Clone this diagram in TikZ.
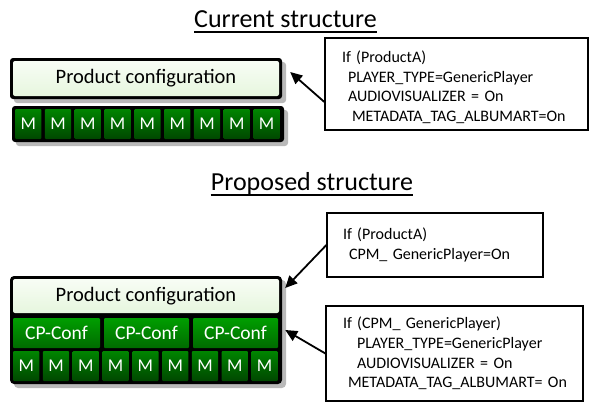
\documentclass[tikz,border=0pt]{standalone}
\usepackage{fontspec}
\setmainfont{Carlito}
\usepackage{xcolor}
\usetikzlibrary{arrows.meta,positioning,shadows}

\definecolor{conftop}{HTML}{F8FDF5}
\definecolor{confbot}{HTML}{E6F6DE}

\begin{document}
\begin{tikzpicture}[x=1pt, y=-1pt,
  title/.style={inner sep=0pt, font=\fontsize{26}{30}\selectfont},
  conf/.style={rectangle, rounded corners=2pt, top color=conftop, bottom color=confbot, minimum width=266pt, minimum height=34pt, font=\fontsize{20.5}{24}\selectfont},
  tray/.style={rectangle, rounded corners=3pt, fill=black, drop shadow={shadow xshift=4pt, shadow yshift=-4pt, fill=gray!55, opacity=1}},
  module/.style={rectangle, rounded corners=1pt, top color=green!52!black, bottom color=green!28!black, minimum width=26.3pt, minimum height=30pt, inner sep=0pt, text=white, font=\fontsize{18}{20}\selectfont},
  cpconf/.style={rectangle, rounded corners=1pt, top color=green!62!black, bottom color=green!42!black, minimum width=85pt, minimum height=30pt, inner sep=0pt, text=white, font=\fontsize{19.5}{22}\selectfont},
  note/.style={rectangle, draw, line width=1.2pt, inner xsep=0pt, inner ysep=0pt, align=left, font=\fontsize{16}{19.6}\selectfont},
  pointer/.style={-{Triangle[length=12pt,width=11pt]}, line width=1.8pt}
]
  \useasboundingbox (0,0) rectangle (590,402);

  % Titles
  \node[title, anchor=base] (cur-title) at (285.5,27) {Current structure};
  \node[title, anchor=base] (new-title) at (312,190) {Proposed structure};
  \draw[line width=1.5pt] ([yshift=-5pt]cur-title.base west) -- ([yshift=-5pt]cur-title.base east);
  \draw[line width=1.5pt] ([yshift=-5pt]new-title.base west) -- ([yshift=-5pt]new-title.base east);

  % Current structure
  \node[tray, minimum width=272pt, minimum height=41pt] (cur-frame) at (146,78.5) {};
  \node[conf, minimum height=35pt] (cur-conf) at (146,78.5) {Product configuration};
  \node[tray, minimum width=272pt, minimum height=36pt] (cur-mods) at (148,124) {};
  \foreach \i in {0,...,8}
    \node[module] (cur-m\i) at ({28.2+29.8*\i},124) {M};

  \node[note, text width=263pt, minimum height=92pt] (cur-note) at (456.5,84)
    {\rule{0pt}{18pt}\hspace*{17pt}If (ProductA)\\
     \hspace*{23pt}PLAYER\_TYPE=GenericPlayer\\
     \hspace*{23pt}AUDIOVISUALIZER = On\\
     \hspace*{27pt}METADATA\_TAG\_ALBUMART=On};

  % Proposed structure
  \node[tray, rounded corners=4pt, minimum width=272pt, minimum height=108pt] (new-frame) at (146,330) {};
  \node[conf] (new-conf) at (146,296) {Product configuration};
  \node[cpconf, minimum width=87pt] (cp1) at (56.5,333) {CP-Conf};
  \node[cpconf] (cp2) at (146.5,333) {CP-Conf};
  \node[cpconf] (cp3) at (235.5,333) {CP-Conf};
  \foreach \i in {0,...,8}
    \node[module] (new-m\i) at ({26.2+29.8*\i},366) {M};

  \node[note, text width=216pt, minimum height=64pt] (new-note) at (435,245)
    {\hspace*{16pt}If (ProductA)\\
     \hspace*{22pt}CPM\_ GenericPlayer=On};
  \node[note, text width=257pt, minimum height=95pt] (cp-note) at (454.5,353.5)
    {\hspace*{17pt}If (CPM\_ GenericPlayer)\\
     \hspace*{31pt}PLAYER\_TYPE=GenericPlayer\\
     \hspace*{31pt}AUDIOVISUALIZER = On\\
     \hspace*{22pt}METADATA\_TAG\_ALBUMART= On};

  % Arrows
  \draw[pointer] ([yshift=-18pt]cur-note.west) -- ([xshift=11pt,yshift=6.5pt]cur-conf.east);
  \draw[pointer] (new-note.west) -- ([xshift=6pt,yshift=8pt]new-conf.east);
  \draw[pointer] (cp-note.west) -- ([xshift=7pt,yshift=3pt]cp3.east);
\end{tikzpicture}
\end{document}
